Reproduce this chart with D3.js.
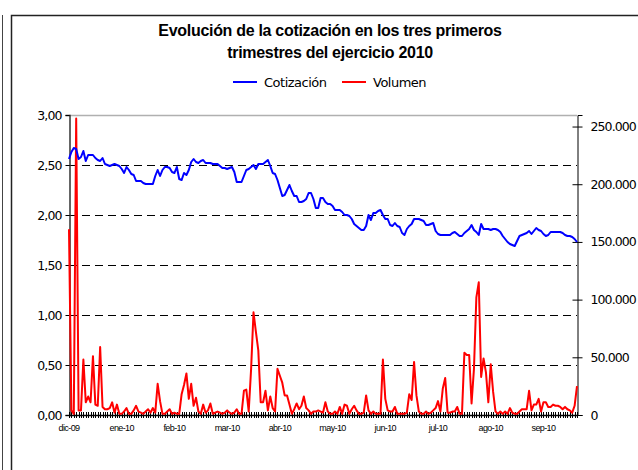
<!DOCTYPE html>
<html>
<head>
<meta charset="utf-8">
<script src="https://cdnjs.cloudflare.com/ajax/libs/d3/7.8.5/d3.min.js"></script>
<style>
  body { margin: 0; background: #fff; }
  svg { display: block; }
</style>
</head>
<body>
<svg id="chart" width="638" height="470"></svg>
<script>
// cotizacion diaria (eur), dic-09 .. sep-10
var cotizacion = [
  2.56, 2.63, 2.67, 2.66, 2.56, 2.58, 2.64, 2.54, 2.60, 2.60,
  2.60, 2.57, 2.55, 2.54, 2.57, 2.51, 2.50, 2.49, 2.50, 2.51,
  2.50, 2.49, 2.46, 2.42, 2.48, 2.45, 2.41, 2.40, 2.34, 2.34,
  2.34, 2.32, 2.31, 2.31, 2.31, 2.31, 2.39, 2.45, 2.39, 2.45,
  2.48, 2.48, 2.47, 2.43, 2.42, 2.48, 2.36, 2.35, 2.42, 2.40,
  2.45, 2.53, 2.56, 2.53, 2.52, 2.54, 2.55, 2.52, 2.52, 2.52,
  2.51, 2.51, 2.51, 2.49, 2.47, 2.47, 2.46, 2.47, 2.48, 2.43,
  2.33, 2.33, 2.33, 2.39, 2.45, 2.46, 2.48, 2.50, 2.46, 2.51,
  2.51, 2.51, 2.53, 2.55, 2.49, 2.42, 2.41, 2.35, 2.27, 2.19,
  2.20, 2.25, 2.30, 2.24, 2.19, 2.19, 2.13, 2.13, 2.14, 2.16,
  2.22, 2.22, 2.16, 2.07, 2.07, 2.17, 2.17, 2.13, 2.11, 2.11,
  2.09, 2.05, 2.05, 2.05, 2.03, 2.00, 2.00, 1.99, 1.96, 1.91,
  1.89, 1.87, 1.85, 1.85, 1.89, 2.00, 1.95, 2.02, 2.02, 2.04,
  2.05, 2.00, 1.96, 1.96, 1.90, 1.89, 1.92, 1.89, 1.88, 1.82,
  1.80, 1.86, 1.89, 1.91, 1.96, 1.96, 1.96, 1.95, 1.94, 1.90,
  1.90, 1.91, 1.92, 1.84, 1.81, 1.80, 1.80, 1.80, 1.80, 1.80,
  1.82, 1.83, 1.81, 1.79, 1.79, 1.82, 1.84, 1.86, 1.90, 1.85,
  1.83, 1.80, 1.91, 1.86, 1.86, 1.86, 1.85, 1.86, 1.86, 1.85,
  1.83, 1.79, 1.76, 1.73, 1.71, 1.70, 1.69, 1.74, 1.79, 1.80,
  1.81, 1.82, 1.84, 1.81, 1.84, 1.87, 1.85, 1.84, 1.81, 1.79,
  1.80, 1.83, 1.83, 1.83, 1.83, 1.83, 1.82, 1.80, 1.79, 1.79,
  1.78, 1.76, 1.73
];

// volumen negociado (titulos)
var volumen = [
  161000, 4000, 1000, 257000, 4000, 4000, 48000, 11000, 16000, 11000,
  51000, 9000, 8000, 59000, 7000, 5000, 5000, 6000, 11000, 2000,
  9000, 1000, 1000, 3000, 6000, 1000, 1000, 4000, 8000, 3000,
  2000, 1000, 3000, 5000, 2000, 6000, 2000, 27000, 12000, 1000,
  1000, 3000, 5000, 1000, 2000, 1000, 1000, 18000, 26000, 36000,
  14000, 27000, 8000, 15000, 3000, 1000, 9000, 2000, 4000, 10000,
  1000, 2000, 3000, 2000, 1000, 2000, 4000, 2000, 1000, 2000,
  5000, 1000, 1000, 21000, 22000, 3000, 40000, 89000, 72000, 56000,
  11000, 11000, 21000, 4000, 16000, 6000, 3000, 40000, 34000, 28000,
  17000, 17000, 9000, 1000, 5000, 10000, 5000, 8000, 16000, 6000,
  4000, 1000, 3000, 3000, 4000, 3000, 2000, 11000, 3000, 1000,
  1000, 3000, 1000, 7000, 1000, 9000, 8000, 1000, 5000, 8000,
  4000, 1000, 1000, 2000, 17000, 4000, 1000, 3000, 1000, 1000,
  1000, 48000, 14000, 4000, 3000, 3000, 7000, 1000, 1000, 1000,
  1000, 2000, 18000, 13000, 46000, 17000, 3000, 1000, 1000, 3000,
  1000, 2000, 4000, 6000, 12000, 3000, 23000, 32000, 2000, 2000,
  3000, 3000, 7000, 1000, 1000, 54000, 52000, 52000, 10000, 40000,
  102000, 115000, 33000, 49000, 37000, 11000, 44000, 20000, 3000, 1000,
  3000, 1000, 3000, 1000, 6000, 2000, 1000, 1000, 3000, 5000,
  5000, 5000, 21000, 4000, 9000, 9000, 14000, 3000, 11000, 11000,
  7000, 7000, 9000, 8000, 8000, 7000, 5000, 7000, 5000, 4000,
  2000, 8000, 25000
];

var etiquetasMes = ["dic-09", "ene-10", "feb-10", "mar-10", "abr-10",
                    "may-10", "jun-10", "jul-10", "ago-10", "sep-10"];
var ticksCotizacion = [0, 0.5, 1, 1.5, 2, 2.5, 3];
var ticksVolumen = [0, 50000, 100000, 150000, 200000, 250000];
var series = ["Cotización", "Volumen"];
var colores = ["#0000ff", "#ff0000"];

var saltoEtiqueta = 22;

var svg = d3.select("#chart");
var mIzq = 69, mDer = 577, mSup = 115, mInf = 415;

var es = d3.formatLocale({ decimal: ",", thousands: ".", grouping: [3], currency: ["", "€"] });
var fmtIzq = es.format(",.2f");
var fmtDer = es.format(",.0f");

var x = d3.scaleLinear().domain([0, cotizacion.length - 1]).range([mIzq, mDer]);
var yIzq = d3.scaleLinear().domain([0, 3]).range([mInf, mSup]);
var yDer = d3.scaleLinear().domain([0, 260000]).range([mInf, mSup]);

// marcos
svg.append("line").attr("x1", 2.5).attr("x2", 2.5).attr("y1", 15).attr("y2", 470)
  .attr("stroke", "#444").attr("stroke-width", 1);
svg.append("path").attr("d", "M11.5,470 V15.5 H638")
  .attr("fill", "none").attr("stroke", "#222").attr("stroke-width", 1.5);

// titulo
var titulo = svg.append("text").attr("x", 330).attr("text-anchor", "middle")
  .style("font-family", "'Liberation Sans', Arial, sans-serif")
  .style("font-weight", "bold").style("font-size", "16px").style("letter-spacing", "-0.3px")
  .attr("fill", "#000");
titulo.append("tspan").attr("x", 330).attr("y", 36).text("Evolución de la cotización en los tres primeros");
titulo.append("tspan").attr("x", 330).attr("y", 58).text("trimestres del ejercicio 2010");

// leyenda
var leyenda = svg.append("g");
var posLey = [233, 342];
series.forEach(function (s, i) {
  leyenda.append("line").attr("x1", posLey[i]).attr("x2", posLey[i] + 24)
    .attr("y1", 82).attr("y2", 82).attr("stroke", colores[i]).attr("stroke-width", 2);
  leyenda.append("text").attr("x", posLey[i] + 31).attr("y", 86.5)
    .style("font-family", "'DejaVu Sans', Verdana, sans-serif").style("font-size", "13px")
    .style("letter-spacing", "-0.5px").attr("fill", "#000").text(s);
});

// rejilla
svg.append("g").selectAll("line").data(ticksCotizacion.filter(function (d) { return d > 0 && d < 3; }))
  .join("line")
  .attr("x1", mIzq).attr("x2", mDer)
  .attr("y1", function (d) { return Math.round(yIzq(d)) + 0.5; })
  .attr("y2", function (d) { return Math.round(yIzq(d)) + 0.5; })
  .attr("stroke", "#000").attr("stroke-dasharray", "8,5");
svg.append("line").attr("x1", mIzq).attr("x2", mDer).attr("y1", mSup + 0.5).attr("y2", mSup + 0.5)
  .attr("stroke", "#b0b0b0").attr("stroke-width", 1.5);

// eje izquierdo
var ejeIzq = svg.append("g").attr("transform", "translate(" + (mIzq + 0.5) + ",0)")
  .call(d3.axisLeft(yIzq).tickValues(ticksCotizacion).tickFormat(fmtIzq).tickSize(4).tickPadding(4));
ejeIzq.select(".domain").attr("stroke", "#333").attr("stroke-width", 1.5);

// eje derecho
var ejeDer = svg.append("g").attr("transform", "translate(" + (mDer + 0.5) + ",0)")
  .call(d3.axisRight(yDer).tickValues(ticksVolumen).tickFormat(fmtDer).tickSize(5).tickPadding(8));
ejeDer.select(".domain").attr("stroke", "#000");
ejeDer.selectAll(".tick line").attr("x1", -5);

[ejeIzq, ejeDer].forEach(function (g) {
  g.selectAll(".tick text").style("font-family", "'DejaVu Sans', Verdana, sans-serif")
    .style("font-size", "12.5px").style("letter-spacing", "-0.9px").attr("fill", "#000");
  g.selectAll(".tick line").attr("stroke", "#000");
});

// eje x por categorias
var ejeX = svg.append("g");
ejeX.selectAll("line.t").data(d3.range(cotizacion.length)).join("line").attr("class", "t")
  .attr("x1", function (d) { return Math.round(x(d)) + 0.5; })
  .attr("x2", function (d) { return Math.round(x(d)) + 0.5; })
  .attr("y1", mInf - 3).attr("y2", mInf + 3)
  .attr("stroke", "#000").attr("stroke-width", 1);
ejeX.append("line").attr("x1", mIzq).attr("x2", mDer).attr("y1", mInf + 0.5).attr("y2", mInf + 0.5)
  .attr("stroke", "#000").attr("stroke-width", 1.5);
ejeX.selectAll("text").data(etiquetasMes).join("text")
  .attr("x", function (d, i) { return x(i * saltoEtiqueta); })
  .attr("y", mInf + 16)
  .attr("text-anchor", "middle")
  .style("font-family", "'Liberation Sans', Arial, sans-serif").style("font-size", "9px")
  .style("letter-spacing", "-0.6px").attr("fill", "#000")
  .text(function (d) { return d; });

// lineas
svg.append("path").datum(volumen)
  .attr("fill", "none").attr("stroke", colores[1]).attr("stroke-width", 2)
  .attr("stroke-linejoin", "round")
  .attr("d", d3.line().x(function (d, i) { return x(i); }).y(function (d) { return yDer(d); }));

svg.append("path").datum(cotizacion)
  .attr("fill", "none").attr("stroke", colores[0]).attr("stroke-width", 2)
  .attr("stroke-linejoin", "round")
  .attr("d", d3.line().x(function (d, i) { return x(i); }).y(function (d) { return yIzq(d); }));
</script>
</body>
</html>
